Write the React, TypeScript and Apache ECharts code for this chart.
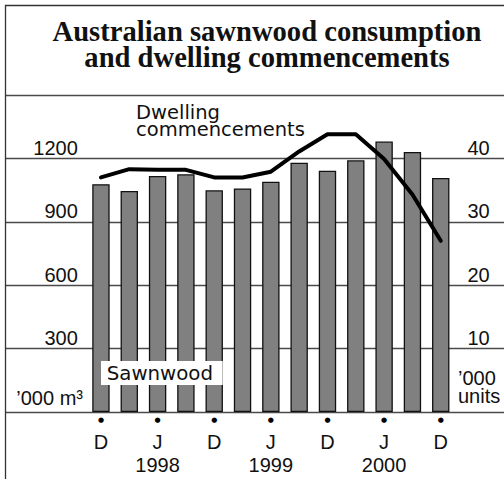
import React, { useEffect, useRef } from "react";
import * as echarts from "echarts";

// Quarters, Dec 1997 to Dec 2000
const quarters = [
  "Dec 1997", "Mar 1998", "Jun 1998", "Sep 1998", "Dec 1998", "Mar 1999", "Jun 1999",
  "Sep 1999", "Dec 1999", "Mar 2000", "Jun 2000", "Sep 2000", "Dec 2000",
];
const monthLabels = ["D", "", "J", "", "D", "", "J", "", "D", "", "J", "", "D"];
const yearLabels = ["", "", "1998", "", "", "", "1999", "", "", "", "2000", "", ""];

// Sawnwood consumption, '000 m3 (left axis)
const sawnwood = [1078, 1046, 1117, 1125, 1049, 1058, 1090, 1180, 1142, 1191, 1280, 1230, 1107];
// Dwelling commencements, '000 units (right axis)
const dwelling = [37.0, 38.3, 38.2, 38.2, 37.0, 37.0, 37.9, 41.1, 43.8, 43.8, 39.9, 34.3, 27.0];

const leftMin = 0, leftMax = 1500, leftStep = 300;
const rightMin = 0, rightMax = 50, rightStep = 10;

const titleLines = ["Australian sawnwood consumption", "and dwelling commencements"];
const lineLabel = ["Dwelling", "commencements"];
const barLabel = "Sawnwood";
const leftUnit = "’000 m³";
const rightUnit = ["’000", "units"];

const NUM_FONT = "'Liberation Sans', Arial, sans-serif";
const WORD_FONT = "'DejaVu Sans', sans-serif";
const GRID_COLOR = "#4a4a4a";
const TEXT_COLOR = "#111";

export default function App() {
  const ref = useRef<HTMLDivElement>(null);

  useEffect(() => {
    const chart = echarts.init(ref.current!, null, { renderer: "svg" });

    const catAxisBase = {
      type: "category",
      gridIndex: 1,
      data: quarters,
      position: "bottom",
      boundaryGap: true,
      axisLine: { show: false },
      axisTick: { show: false },
      splitLine: { show: false },
    };

    const txt = (text: string, x: number, y: number, font: string, align: string, z = 50) => ({
      type: "text",
      z,
      x,
      y,
      silent: true,
      style: { text, textAlign: align, textVerticalAlign: "middle", font, fill: TEXT_COLOR },
    });

    const option: any = {
      animation: false,
      backgroundColor: "#fff",
      grid: [
        { left: 6, right: 0, top: 95, height: 317, containLabel: false, outerBoundsMode: "none" },
        { left: 86.8, width: 368.1, top: 95, height: 317, containLabel: false, outerBoundsMode: "none" },
      ],
      xAxis: [
        { type: "value", gridIndex: 0, min: 0, max: 1, show: false },
        {
          ...catAxisBase,
          axisLabel: {
            interval: 0,
            margin: 29.6,
            verticalAlign: "middle",
            fontFamily: NUM_FONT,
            fontSize: 20,
            color: TEXT_COLOR,
            formatter: (_v: string, i: number) => monthLabels[i],
          },
        },
        {
          ...catAxisBase,
          axisLabel: {
            interval: 0,
            margin: 8,
            verticalAlign: "middle",
            fontFamily: WORD_FONT,
            fontSize: 7,
            color: "#000",
            formatter: (_v: string, i: number) => (monthLabels[i] ? "●" : ""),
          },
        },
        {
          ...catAxisBase,
          axisLabel: {
            interval: 0,
            margin: 52.8,
            verticalAlign: "middle",
            fontFamily: NUM_FONT,
            fontSize: 20,
            color: TEXT_COLOR,
            formatter: (_v: string, i: number) => yearLabels[i],
          },
        },
      ],
      yAxis: [
        {
          type: "value",
          gridIndex: 0,
          min: leftMin,
          max: leftMax,
          interval: leftStep,
          axisLine: { show: false },
          axisTick: { show: false },
          axisLabel: { show: false },
          splitLine: { show: true, lineStyle: { color: GRID_COLOR, width: 1.3 } },
        },
        {
          type: "value",
          gridIndex: 1,
          position: "left",
          min: leftMin,
          max: leftMax,
          interval: leftStep,
          axisLine: { show: false },
          axisTick: { show: false },
          splitLine: { show: false },
          axisLabel: {
            margin: 9,
            verticalAlign: "bottom",
            lineHeight: 21,
            fontFamily: NUM_FONT,
            fontSize: 20,
            color: TEXT_COLOR,
            formatter: (v: number) => (v === leftMin || v === leftMax ? "" : String(v)),
          },
        },
        {
          type: "value",
          gridIndex: 1,
          position: "right",
          min: rightMin,
          max: rightMax,
          interval: rightStep,
          axisLine: { show: false },
          axisTick: { show: false },
          splitLine: { show: false },
          axisLabel: {
            margin: 12.5,
            verticalAlign: "bottom",
            lineHeight: 21,
            fontFamily: NUM_FONT,
            fontSize: 20,
            color: TEXT_COLOR,
            formatter: (v: number) => (v === rightMin || v === rightMax ? "" : String(v)),
          },
        },
      ],
      series: [
        {
          name: "Sawnwood",
          type: "bar",
          xAxisIndex: 1,
          yAxisIndex: 1,
          data: sawnwood,
          barWidth: 17.4,
          itemStyle: { color: "#808080", borderColor: "#111", borderWidth: 1.3 },
        },
        {
          name: "Dwelling commencements",
          type: "line",
          xAxisIndex: 1,
          yAxisIndex: 2,
          data: dwelling,
          symbol: "none",
          showSymbol: false,
          lineStyle: { color: "#000", width: 4, cap: "round", join: "round" },
        },
      ],
      graphic: [
        {
          type: "rect",
          z: 50,
          shape: { x: 5.5, y: 5.5, width: 700, height: 700 },
          style: { fill: "none", stroke: "#333", lineWidth: 1.3 },
          silent: true,
        },
        txt(titleLines[0], 267, 31.1, "bold 28.6px 'Liberation Serif', 'Times New Roman', serif", "center"),
        txt(titleLines[1], 267, 57.9, "bold 28.6px 'Liberation Serif', 'Times New Roman', serif", "center"),
        txt(lineLabel[0], 136, 112, "19.5px 'DejaVu Sans', sans-serif", "left"),
        txt(lineLabel[1], 136, 129, "19.5px 'DejaVu Sans', sans-serif", "left"),
        {
          type: "rect",
          z: 50,
          silent: true,
          shape: { x: 101, y: 361, width: 121.7, height: 24 },
          style: { fill: "#fff" },
        },
        txt(barLabel, 106.7, 373.2, "19.8px 'DejaVu Sans', sans-serif", "left", 51),
        txt(leftUnit, 83, 398, "20px 'Liberation Sans', Arial, sans-serif", "right"),
        txt(rightUnit[0], 458, 378.1, "20px 'Liberation Sans', Arial, sans-serif", "left"),
        txt(rightUnit[1], 458, 396.4, "20px 'Liberation Sans', Arial, sans-serif", "left"),
      ],
    };

    chart.setOption(option);
    return () => chart.dispose();
  }, []);

  return (
    <div
      ref={ref}
      style={{ position: "absolute", left: 0, top: 0, width: 504, height: 479, background: "#fff" }}
    />
  );
}
